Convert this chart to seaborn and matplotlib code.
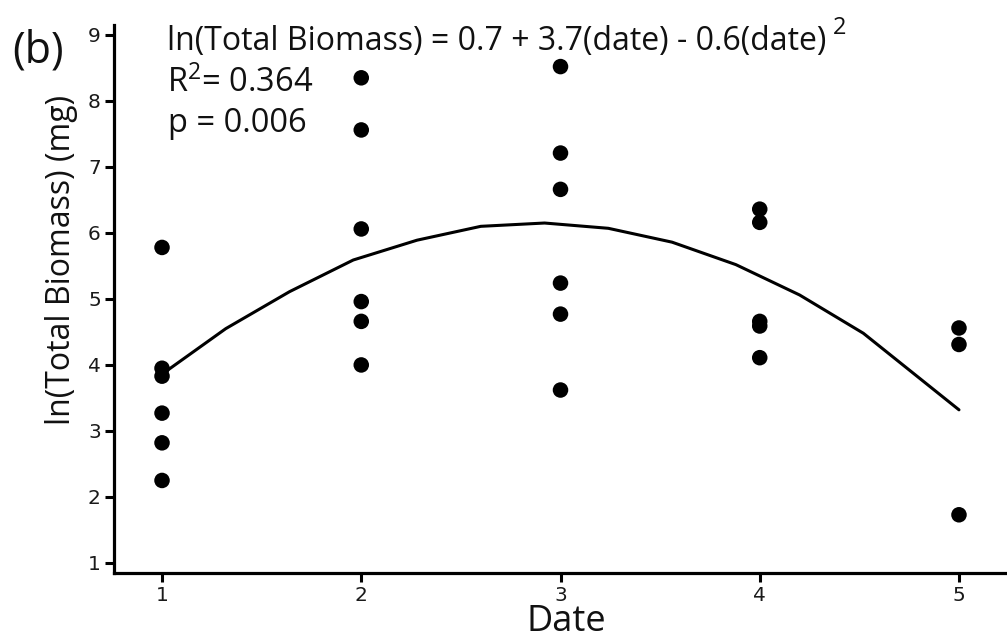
import matplotlib
matplotlib.use("Agg")
import matplotlib.pyplot as plt
import seaborn as sns
import pandas as pd

# ---- data ----
date_1 = [5.78, 3.95, 3.83, 3.27, 2.82, 2.25]
date_2 = [8.35, 7.56, 6.06, 4.96, 4.66, 4.00]
date_3 = [8.52, 7.21, 6.66, 5.24, 4.77, 3.62]
date_4 = [6.36, 6.16, 4.66, 4.59, 4.11]
date_5 = [4.56, 4.31, 1.73]

curve_x = [1.0, 1.32, 1.64, 1.96, 2.28, 2.60, 2.92, 3.24, 3.56, 3.88, 4.20, 4.52, 5.0]
curve_y = [3.86, 4.55, 5.11, 5.59, 5.89, 6.10, 6.15, 6.07, 5.86, 5.52, 5.06, 4.48, 3.32]

x_ticks = [1, 2, 3, 4, 5]
y_ticks = [1, 2, 3, 4, 5, 6, 7, 8, 9]

eq_text = "ln(Total Biomass) = 0.7 + 3.7(date) - 0.6(date)"
r2_text = r"$\mathregular{R^{2}}$= 0.364"
p_text = "p = 0.006"
panel = "(b)"
xlabel = "Date"
ylabel = "ln(Total Biomass) (mg)"

rows = []
for d, vals in zip(x_ticks, [date_1, date_2, date_3, date_4, date_5]):
    for v in vals:
        rows.append({"date": d, "biomass": v})
df = pd.DataFrame(rows)
curve = pd.DataFrame({"date": curve_x, "fit": curve_y})

sns.set_style("ticks")
plt.rcParams["font.family"] = ["Open Sans", "DejaVu Sans"]
plt.rcParams["mathtext.fontset"] = "custom"
plt.rcParams["mathtext.rm"] = "Open Sans"

fig = plt.figure(figsize=(10.07, 6.42), dpi=100)
ax = fig.add_axes([114 / 1007, 69 / 642, 893 / 1007, 548 / 642])

sns.lineplot(data=curve, x="date", y="fit", ax=ax, color="black", lw=2.2,
             sort=False, estimator=None)
sns.scatterplot(data=df, x="date", y="biomass", ax=ax, color="black", s=125,
                edgecolor="none", zorder=3)

ax.set_xlim(0.759, 5.241)
ax.set_ylim(0.848, 9.15)
ax.set_xticks(x_ticks)
ax.set_yticks(y_ticks)
ax.set_xticklabels([str(t) for t in x_ticks], fontfamily="DejaVu Sans", fontsize=14.5)
ax.set_yticklabels([str(t) for t in y_ticks], fontfamily="DejaVu Sans", fontsize=14.5)
ax.tick_params(axis="both", length=6.5, width=2.2, color="black", labelcolor="#1a1a1a")
ax.tick_params(axis="x", pad=3)
ax.tick_params(axis="y", pad=3)

for s in ["top", "right"]:
    ax.spines[s].set_visible(False)
for s in ["left", "bottom"]:
    ax.spines[s].set_linewidth(2.3)
    ax.spines[s].set_color("black")

ax.set_xlabel(xlabel, fontsize=26, color="#111111")
ax.xaxis.set_label_coords(0.506, -0.057)
ax.set_ylabel(ylabel, fontsize=23, color="#111111")
ax.yaxis.set_label_coords(-0.040, 0.571)

# annotations
eq = ax.text(0.0594, 0.954, eq_text, transform=ax.transAxes, fontsize=23,
             va="baseline", ha="left", color="#111111")
ax.annotate("2", xy=(1, 1), xycoords=eq, xytext=(6, -9), textcoords="offset pixels",
            fontsize=17, va="baseline", ha="left", color="#111111")
ax.text(0.0594, 0.878, r2_text, transform=ax.transAxes, fontsize=23.5,
        va="baseline", ha="left", color="#111111")
ax.text(0.0605, 0.805, p_text, transform=ax.transAxes, fontsize=23.5,
        va="baseline", ha="left", color="#111111")

fig.text(12 / 1007, 1 - 51 / 642, panel, fontsize=31, va="center", ha="left",
         color="#111111")

fig.savefig("out.png", dpi=100)
